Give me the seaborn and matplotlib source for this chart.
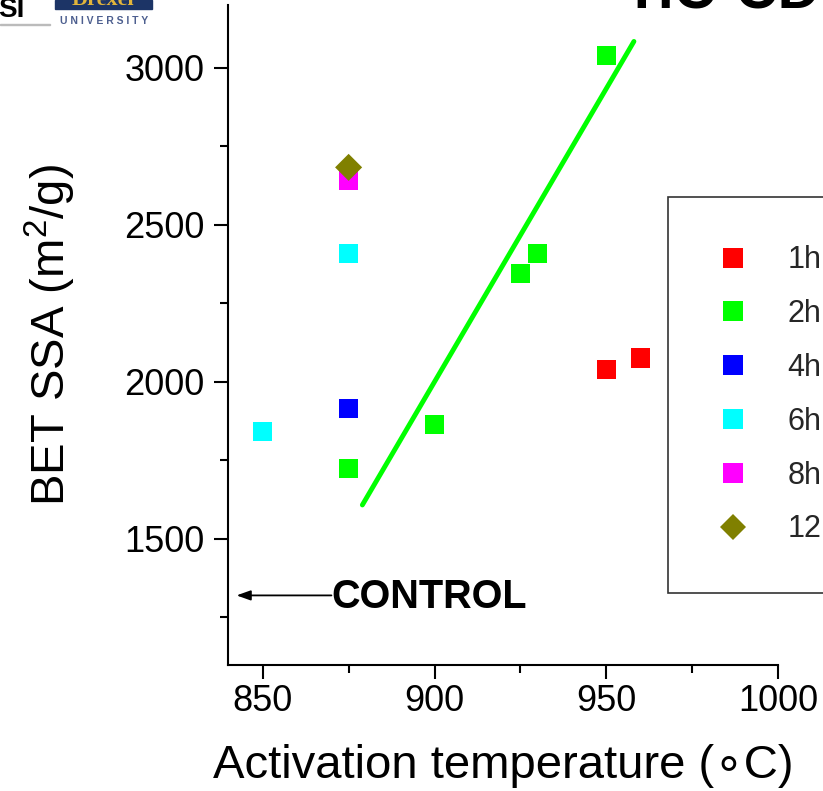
import matplotlib
matplotlib.use("Agg")
import matplotlib.pyplot as plt
from matplotlib.lines import Line2D
from matplotlib.patches import Rectangle
import seaborn as sns
import pandas as pd

# ---- data ----
groups = ["1h", "2h", "4h", "6h", "8h", "12h"]
temps_1h = [950, 960]
ssa_1h = [2038, 2076]
temps_2h = [875, 900, 925, 930, 950]
ssa_2h = [1723, 1863, 2346, 2410, 3039]
temps_4h = [875]
ssa_4h = [1914]
temps_6h = [850, 875]
ssa_6h = [1841, 2410]
temps_8h = [875]
ssa_8h = [2642]
temps_12h = [875]
ssa_12h = [2683]
fit_x = [879, 958]
fit_y = [1608, 3084]
control_ssa = 1320
x_ticks = [850, 900, 950, 1000]
y_ticks = [1500, 2000, 2500, 3000]

colors = {"1h": "#ff0000", "2h": "#00ff00", "4h": "#0000ff",
          "6h": "#00ffff", "8h": "#ff00ff", "12h": "#808000"}
markers = {"1h": "s", "2h": "s", "4h": "s", "6h": "s", "8h": "s", "12h": "D"}

rows = []
for g, xs, ys in zip(groups,
                     [temps_1h, temps_2h, temps_4h, temps_6h, temps_8h, temps_12h],
                     [ssa_1h, ssa_2h, ssa_4h, ssa_6h, ssa_8h, ssa_12h]):
    for x, y in zip(xs, ys):
        rows.append({"temp": x, "ssa": y, "time": g})
df = pd.DataFrame(rows)

sns.set_theme(style="ticks")
plt.rcParams["font.family"] = ["Liberation Sans", "DejaVu Sans"]
plt.rcParams["mathtext.fontset"] = "custom"
plt.rcParams["mathtext.rm"] = "Liberation Sans"
plt.rcParams["mathtext.it"] = "Liberation Sans:italic"
plt.rcParams["mathtext.bf"] = "Liberation Sans:bold"

fig = plt.figure(figsize=(8.23, 7.91), dpi=100)
ax = fig.add_axes([228.3 / 823, 1 - 664.5 / 791, (778.3 - 228.3) / 823, (664.5 - 5) / 791])

sns.lineplot(x=fit_x, y=fit_y, ax=ax, color="#00ff00", lw=3.5, zorder=2)
sns.scatterplot(data=df, x="temp", y="ssa", hue="time", style="time",
                palette=colors, markers=markers, hue_order=groups, style_order=groups,
                s=190, linewidth=0, ax=ax, legend=False, zorder=3)

ax.set_xlim(840, 1000)
ax.set_ylim(1100, 3200)
ax.set_xticks(x_ticks)
ax.set_yticks(y_ticks)
ax.set_xticks([875, 925, 975], minor=True)
ax.set_yticks([1250, 1750, 2250, 2750], minor=True)
ax.tick_params(axis="both", which="major", direction="out", length=10, width=1.5,
               labelsize=26, color="black", labelcolor="black")
ax.tick_params(axis="both", which="minor", direction="out", length=5.5, width=1.5,
               color="black")
ax.tick_params(axis="x", which="major", pad=4)
ax.tick_params(axis="y", which="major", pad=7)
for side in ["left", "bottom"]:
    ax.spines[side].set_linewidth(1.5)
    ax.spines[side].set_color("black")
sns.despine(ax=ax)

ax.set_xlabel("Activation temperature (\u2218C)", fontsize=34, labelpad=18, color="black")
ax.set_ylabel(r"BET SSA (m$^2$/g)", fontsize=34, labelpad=33, color="black")

# CONTROL annotation
ax.annotate("", xy=(842.4, control_ssa), xytext=(870, control_ssa),
            arrowprops=dict(arrowstyle="-|>,head_length=0.7,head_width=0.25",
                            color="black", lw=1.3, shrinkA=0, shrinkB=0))
ax.text(870, control_ssa - 5, "CONTROL", fontsize=28.5, fontweight="bold",
        ha="left", va="center", color="black")

# legend
handles = [Line2D([0], [0], marker=markers[g], color="none", markerfacecolor=colors[g],
                  markeredgewidth=0, markersize=13.7, linestyle="none") for g in groups]
leg = fig.legend(handles, groups, loc="upper left",
                 bbox_to_anchor=(668 / 823, 1 - 197 / 791),
                 fontsize=22, frameon=True, fancybox=False, borderpad=1.58,
                 handlelength=1.12, handletextpad=1.2, labelspacing=0.78,
                 borderaxespad=0)
leg.get_frame().set_edgecolor("black")
leg.get_frame().set_linewidth(1.2)

# title (cut by the top edge)
fig.text(623 / 823, 1 - 8 / 791, "TiC-CDC", fontsize=42, fontweight="bold",
         ha="left", va="baseline", color="black")

# logos (top-left, cut)
fig.text(-2 / 823, 1 - 17 / 791, "SI", fontsize=20, fontweight="bold",
         ha="left", va="baseline", color="black")
fig.add_artist(Rectangle((0, 1 - 25 / 791), 50 / 823, 1.2 / 791,
                         transform=fig.transFigure, color="#bbbbbb"))
fig.add_artist(Rectangle((55 / 823, 1 - 9 / 791), 97 / 823, 9 / 791,
                         transform=fig.transFigure, color="#1c3466"))
fig.text(103 / 823, 1 - 5 / 791, "Drexel", fontsize=16, fontweight="bold",
         ha="center", va="baseline", color="#e2b53b", family="Liberation Serif")
fig.text(104 / 823, 1 - 24 / 791, "U N I V E R S I T Y", fontsize=7.5,
         fontweight="bold", ha="center", va="baseline", color="#4d5f8f")

fig.savefig("out.png", dpi=100)
